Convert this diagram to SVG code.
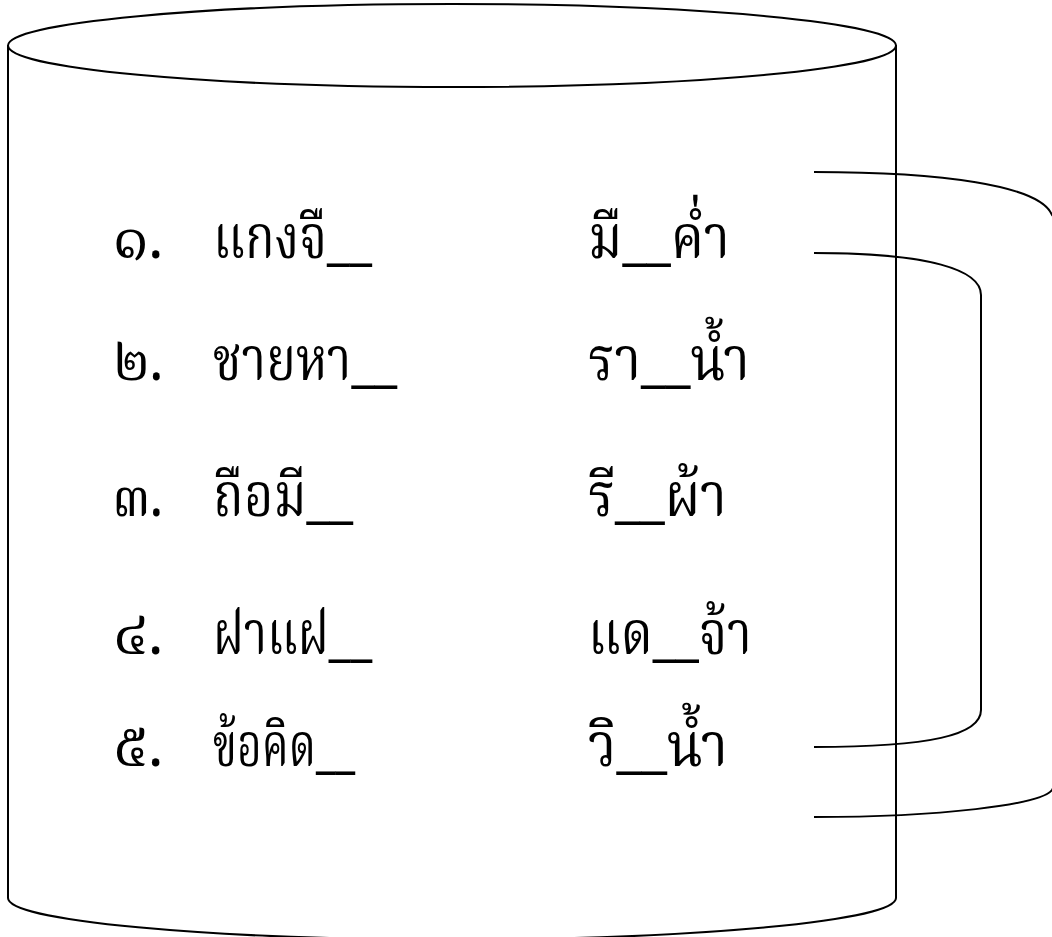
<svg xmlns="http://www.w3.org/2000/svg" width="1052" height="937" viewBox="0 0 1052 937">
<style>
.l{fill:none;stroke:#000;stroke-width:2}
.t{font-family:"Noto Serif Thai","Noto Sans Thai","Liberation Serif",serif;font-size:60px;fill:#000}
</style>
<rect width="1052" height="937" fill="#fff"/>
<g id="cylinder">
<path class="l" d="M8,45 L8,898 A444,41.5 0 0 0 896,898 L896,45"/>
<ellipse class="l" cx="452" cy="45.5" rx="444" ry="41.5" fill="#fff"/>
</g>
<g id="connectors">
<path class="l" d="M814,172 C940,172 1040,185 1052,215 L1060,225 L1060,775 L1052,790 C1040,805 940,817 814,817"/>
<path class="l" d="M814,253 C930,253 981,270 981,295 L981,710 C981,735 930,747 814,747"/>
</g>
<g id="row1"><text class="t" x="113" y="258" textLength="50" lengthAdjust="spacingAndGlyphs">๑.</text><text class="t" x="213" y="258" textLength="159" lengthAdjust="spacingAndGlyphs">แกงจื__</text><text class="t" x="588" y="258" textLength="142" lengthAdjust="spacingAndGlyphs">มื__ค่ำ</text></g>
<g id="row2"><text class="t" x="113" y="380" textLength="50" lengthAdjust="spacingAndGlyphs">๒.</text><text class="t" x="213" y="380" textLength="184" lengthAdjust="spacingAndGlyphs">ชายหา__</text><text class="t" x="588" y="380" textLength="162" lengthAdjust="spacingAndGlyphs">รา__น้ำ</text></g>
<g id="row3"><text class="t" x="113" y="516" textLength="50" lengthAdjust="spacingAndGlyphs">๓.</text><text class="t" x="213" y="516" textLength="140" lengthAdjust="spacingAndGlyphs">ถือมี__</text><text class="t" x="588" y="516" textLength="139" lengthAdjust="spacingAndGlyphs">รี__ผ้า</text></g>
<g id="row4"><text class="t" x="113" y="654" textLength="50" lengthAdjust="spacingAndGlyphs">๔.</text><text class="t" x="213" y="654" textLength="159" lengthAdjust="spacingAndGlyphs">ฝาแฝ__</text><text class="t" x="588" y="654" textLength="164" lengthAdjust="spacingAndGlyphs">แด__จ้า</text></g>
<g id="row5"><text class="t" x="113" y="766" textLength="50" lengthAdjust="spacingAndGlyphs">๕.</text><text class="t" x="213" y="766" textLength="142" lengthAdjust="spacingAndGlyphs">ข้อคิด__</text><text class="t" x="588" y="766" textLength="140" lengthAdjust="spacingAndGlyphs">วิ__น้ำ</text></g>
</svg>
